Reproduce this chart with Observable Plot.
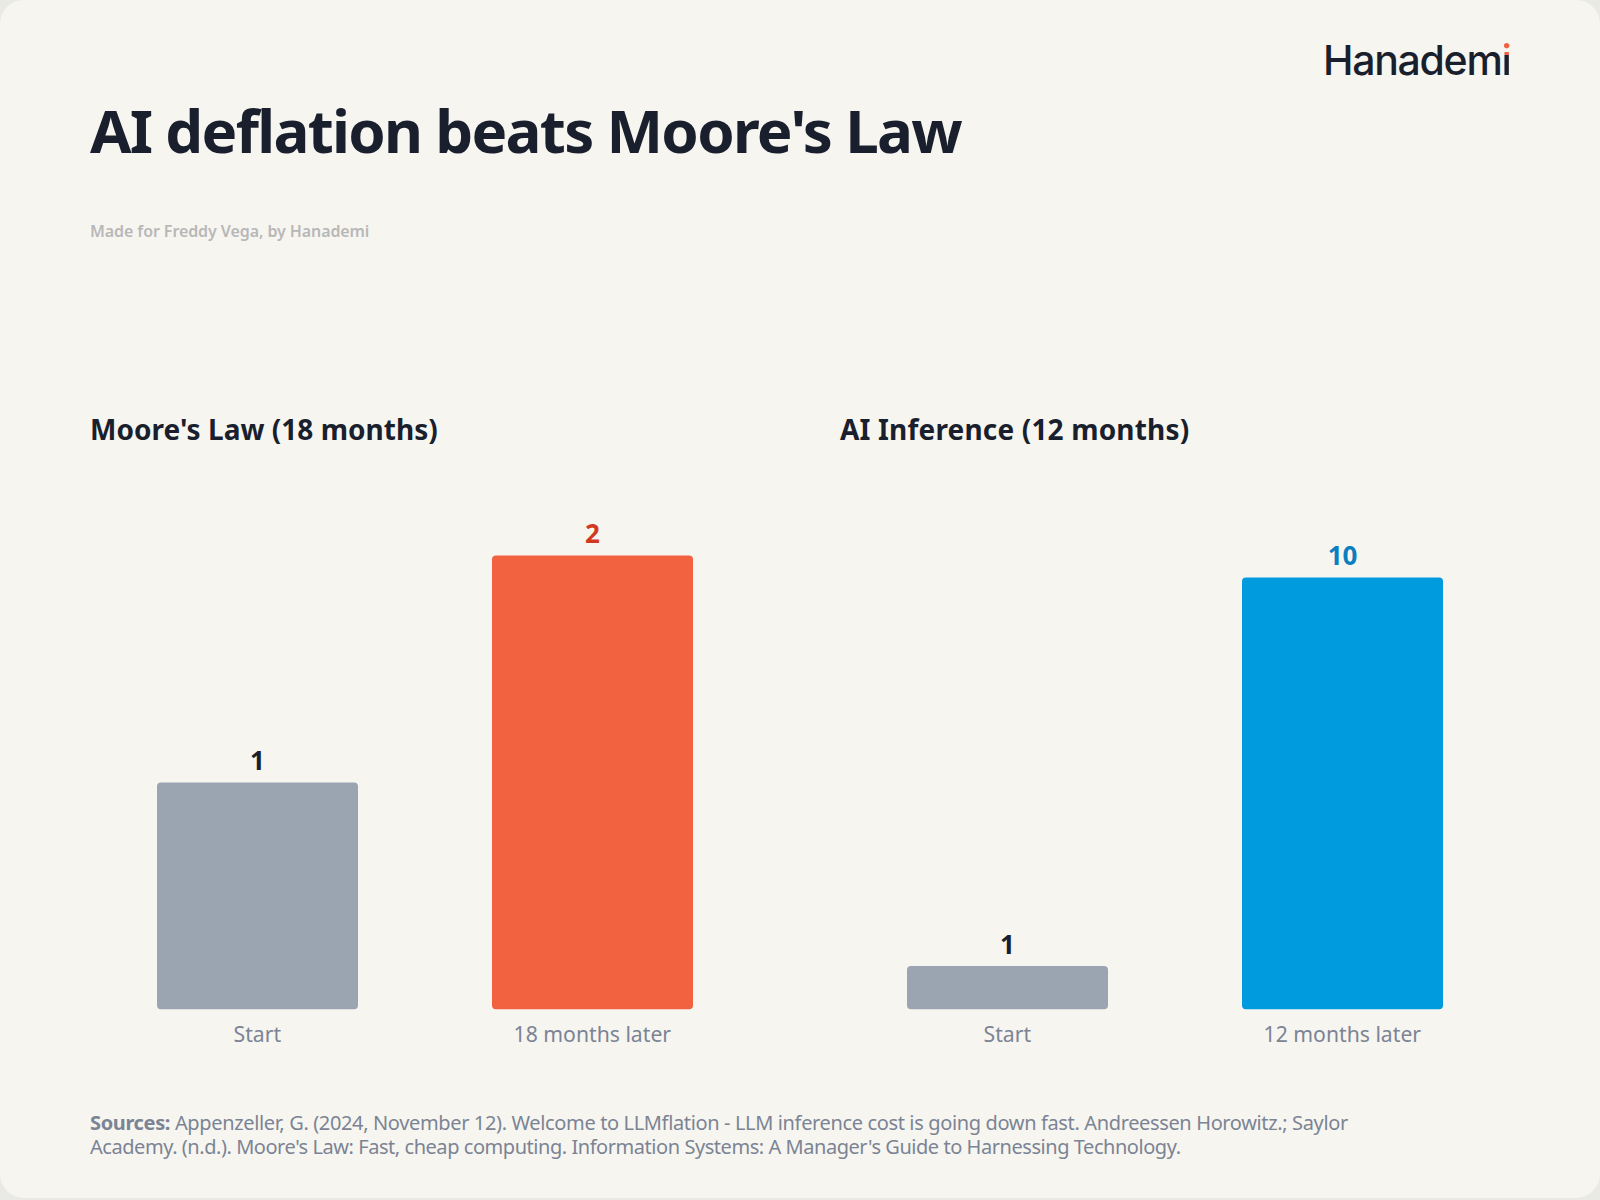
<!DOCTYPE html>
<html>
<head>
<meta charset="utf-8">
<script src="https://cdn.jsdelivr.net/npm/d3@7"></script>
<script src="https://cdn.jsdelivr.net/npm/@observablehq/plot@0.6"></script>
<style>
html,body{margin:0;padding:0;background:#e9e9e6;}
#card{position:relative;width:1600px;height:1198px;background:#f7f5f0;border-radius:24px;overflow:hidden;font-family:"Noto Sans",sans-serif;}
#card>div{position:absolute;white-space:nowrap;}
.title{left:90px;top:89.5px;font-size:60px;font-weight:700;color:#1a1f2e;line-height:80px;letter-spacing:-1.7px;}
.sub{left:90px;top:220px;font-size:16px;font-weight:600;color:#b8b8b8;line-height:22px;letter-spacing:-0.09px;}
.logo{left:1323px;top:35px;font-family:Inter,sans-serif;font-size:41px;font-weight:500;color:#1a1f2e;line-height:50px;letter-spacing:-1.3px;}
.logo span{background:linear-gradient(#f26140 0 40%,#1a1f2e 40% 100%);-webkit-background-clip:text;background-clip:text;color:transparent;}
.head{top:410px;font-size:28px;font-weight:700;color:#1a1f2e;line-height:38px;}
.src{left:90px;top:1110.5px;font-size:20px;line-height:24.5px;color:#7b8494;}
.src b{font-weight:700;}
.panel{top:510px;left:0;}
svg{display:block;}
</style>
</head>
<body>
<div id="card">
  <div class="title">AI deflation beats Moore's Law</div>
  <div class="sub">Made for Freddy Vega, by Hanademi</div>
  <div class="logo">Hanadem<span>i</span></div>
  <div class="head" style="left:90px;letter-spacing:0.03px">Moore's Law (18 months)</div>
  <div class="head" style="left:840px;letter-spacing:0.17px">AI Inference (12 months)</div>
  <div class="panel" id="left" style="left:90px"></div>
  <div class="panel" id="right" style="left:840px"></div>
  <div class="src"><span style="letter-spacing:-0.36px"><b>Sources:</b> Appenzeller, G. (2024, November 12). Welcome to LLMflation - LLM inference cost is going down fast. Andreessen Horowitz.; Saylor</span><br><span style="letter-spacing:-0.45px">Academy. (n.d.). Moore's Law: Fast, cheap computing. Information Systems: A Manager's Guide to Harnessing Technology.</span></div>
</div>
<script>
const mooreLabels = ["Start", "18 months later"];
const mooreValues = [1, 2];
const mooreColors = ["#9aa5b1", "#f26140"];
const mooreText = ["#1a1f2e", "#d13a1e"];
const aiLabels = ["Start", "12 months later"];
const aiValues = [1, 10];
const aiColors = ["#9aa5b1", "#009ade"];
const aiText = ["#1a1f2e", "#0a7fbf"];

function panel(labels, values, colors, textColors, marginTop) {
  const rows = labels.map((label, i) => ({label, value: values[i], color: colors[i], text: textColors[i]}));
  return Plot.plot({
    width: 670,
    height: 550,
    marginTop,
    marginBottom: 50.7,
    marginLeft: 0,
    marginRight: 0,
    style: {background: "transparent", overflow: "visible"},
    x: {domain: labels, paddingInner: 0.4, paddingOuter: 0.2, label: null},
    y: {domain: [0, d3.max(values)], axis: null},
    marks: [
      Plot.barY(rows, {x: "label", y: "value", fill: "color", rx: 4}),
      Plot.text(rows, {x: "label", y: "value", text: d => String(d.value), fill: "text", dx: -0.5, dy: -21, fontSize: 26, fontWeight: 700, fontFamily: "Noto Sans"}),
      Plot.axisX({tickSize: 0, tickPadding: 17, dx: -0.7, fontSize: 21.2, fontFamily: "Noto Sans", color: "#7b8494", label: null})
    ]
  });
}
document.getElementById("left").append(panel(mooreLabels, mooreValues, mooreColors, mooreText, 45.6));
document.getElementById("right").append(panel(aiLabels, aiValues, aiColors, aiText, 67.5));
</script>
</body>
</html>
